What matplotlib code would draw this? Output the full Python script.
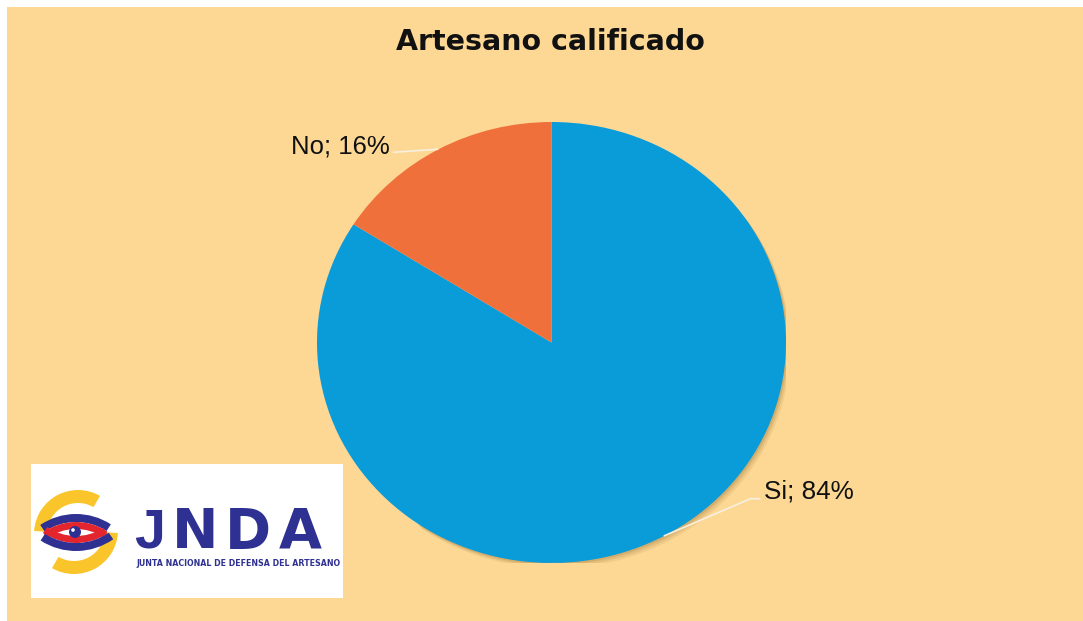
import numpy as np
import matplotlib
matplotlib.use("Agg")
import matplotlib.pyplot as plt
from matplotlib.patches import Rectangle, Wedge, Circle

# -----------------------------
# Data
# -----------------------------
labels = ["Si", "No"]
values = [84, 16]
colors = ["#0A9BD9", "#F0703C"]
title = "Artesano calificado"

W, H = 1083, 621
bg = "#FDD894"

fig = plt.figure(figsize=(W / 100, H / 100), dpi=100)
fig.patch.set_facecolor("white")


def fx(px):
    return px / W


def fy(py):
    return 1 - py / H


# orange panel
fig.patches.append(Rectangle((fx(7), 0), 1 - fx(7), fy(7), transform=fig.transFigure,
                             facecolor=bg, edgecolor="none", zorder=-5))

fig.text(fx(550), fy(42), title, ha="center", va="center",
         fontsize=20.5, fontweight="bold", family="DejaVu Sans", color="#111111")

# -----------------------------
# Pie
# -----------------------------
left, right, top, bottom = 317, 786, 122, 563
ax = fig.add_axes([fx(left), fy(bottom), fx(right - left), (bottom - top) / H])
ax.patch.set_visible(False)
wedges, _ = ax.pie(values, colors=colors, startangle=90, counterclock=False,
                   radius=1.0, wedgeprops=dict(edgecolor="none"))
ax.set_aspect("auto")
ax.set_xlim(-1, 1)
ax.set_ylim(-1, 1)
ax.axis("off")

# soft shadow along lower right edge
for k, a in [(3, 0.08), (2, 0.10), (1, 0.14)]:
    ax.add_patch(Wedge((0.006 * k, -0.008 * k), 1.0, -125, 35, facecolor="#6b4a10",
                       alpha=a, edgecolor="none", zorder=0))

sx = 234.5  # px per unit x
sy = 220.5
for w, lab, val in zip(wedges, labels, values):
    mid = np.deg2rad((w.theta1 + w.theta2) / 2)
    ex, ey = np.cos(mid), np.sin(mid)
    txt = f"{lab}; {val}%"
    if ex < 0:
        # label to upper left
        tx, ty = ex - 45 / sx, ey - 3 / sy
        ax.plot([ex - 1 / sx, tx], [ey, ty], color="#F7F0E0", lw=1.2, clip_on=False)
        ax.text(tx - 4 / sx, ty + 6 / sy, txt, ha="right", va="center", fontsize=18.5,
                family="Liberation Sans", color="#111111", clip_on=False)
    else:
        kx, ky = ex + 86 / sx, ey + 37 / sy
        ax.plot([ex, kx, kx + 9 / sx], [ey, ky, ky], color="#F7F0E0", lw=1.2, clip_on=False)
        ax.text(kx + 14 / sx, ky + 7 / sy, txt, ha="left", va="center", fontsize=18.8,
                family="Liberation Sans", color="#111111", clip_on=False)

# -----------------------------
# Logo
# -----------------------------
lx0, lx1, ly0, ly1 = 31, 343, 464, 598
lax = fig.add_axes([fx(lx0), fy(ly1), fx(lx1 - lx0), (ly1 - ly0) / H])
lax.set_xlim(lx0, lx1)
lax.set_ylim(H - ly1, H - ly0)
lax.set_facecolor("white")
for s in lax.spines.values():
    s.set_visible(False)
lax.set_xticks([])
lax.set_yticks([])

yel, blu, red = "#F9C52A", "#2E3192", "#E3262E"
ex0, ey0 = 75, H - 532
# hands
lax.add_patch(Wedge((ex0 + 3, ey0 - 2), 44, 60, 176, width=13, facecolor=yel, edgecolor="none"))
lax.add_patch(Wedge((ex0 - 1, ey0 + 2), 44, 240, 356, width=13, facecolor=yel, edgecolor="none"))
# upper stripes
lax.add_patch(Wedge((76, ey0 - 46), 64, 57, 124, width=8, facecolor=blu, edgecolor="none"))
lax.add_patch(Wedge((76, ey0 - 46), 56, 56, 126, width=7, facecolor=red, edgecolor="none"))
# lower stripes
lax.add_patch(Wedge((76, ey0 + 46), 57, 235, 303, width=7, facecolor=red, edgecolor="none"))
lax.add_patch(Wedge((76, ey0 + 46), 65, 237, 305, width=8, facecolor=blu, edgecolor="none"))
# eye
lax.add_patch(Circle((ex0, ey0), 6, facecolor=blu, edgecolor="none"))
lax.add_patch(Circle((ex0 - 2, ey0 + 2), 1.8, facecolor="white", edgecolor="none"))

for ch, cx in zip("JNDA", [150, 195, 248, 300]):
    fam = "Liberation Sans" if ch == "J" else "DejaVu Sans"
    lax.text(cx, H - 533, ch, ha="center", va="center", fontsize=40,
             fontweight="bold", family=fam, color=blu)
lax.text(238, H - 563, "JUNTA NACIONAL DE DEFENSA DEL ARTESANO", ha="center",
         va="center", fontsize=5.7, fontweight="bold", family="DejaVu Sans", color=blu)

fig.savefig("out.png", dpi=100, facecolor=fig.get_facecolor())
